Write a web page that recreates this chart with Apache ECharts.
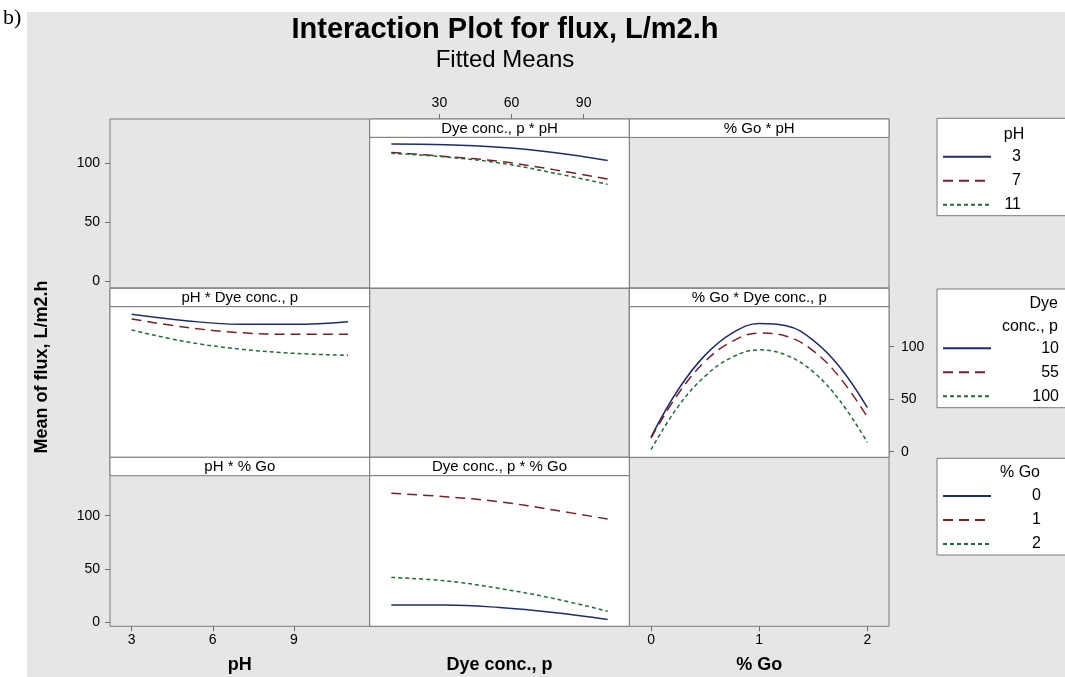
<!DOCTYPE html>
<html style="height: 100%">
<head>
<meta charset="utf-8">
<script src="https://cdn.jsdelivr.net/npm/echarts@6/dist/echarts.min.js"></script>
</head>
<body style="height: 100%; margin: 0">
<div id="container" style="width: 1065px; height: 677px"></div>
<script type="text/javascript">
// x positions where the fitted curves were read
var dyeX = [10, 32.5, 55, 77.5, 100];
var phX = [3, 5, 7, 9, 11];
var goX = [0, 0.25, 0.5, 0.75, 1, 1.25, 1.5, 1.75, 2];

var phLevels = ['3', '7', '11'];
var dyeLevels = ['10', '55', '100'];
var goLevels = ['0', '1', '2'];

// Dye conc., p * pH  (one line per pH level)
var dyePh3 = [116.4, 115.8, 113.6, 109.3, 102.5];
var dyePh7 = [109.3, 105.9, 101.7, 94.7, 86.8];
var dyePh11 = [108.5, 105.4, 100.3, 91.9, 82.2];

// pH * Dye conc., p  (one line per dye level)
var phDye10 = [130.9, 124.8, 121.3, 121.3, 123.8];
var phDye55 = [126.4, 118.5, 113.4, 111.8, 111.8];
var phDye100 = [115.9, 104.8, 97.8, 93.7, 91.8];

// % Go * Dye conc., p
var goDye10 = [14, 59, 92, 113, 122, 120, 106, 80, 42];
var goDye55 = [13, 55, 86, 105, 113, 110, 96, 70, 33];
var goDye100 = [2, 43, 72, 90, 97, 92, 76, 48, 9];

// Dye conc., p * % Go
var dyeGo0 = [16.0, 16.0, 13.6, 8.9, 2.3];
var dyeGo1 = [121.1, 117.9, 113.2, 105.4, 96.9];
var dyeGo2 = [41.9, 38.7, 31.5, 22.1, 10.1];

var yTicks = [0, 50, 100];
var phTicks = [3, 6, 9];
var dyeTicks = [30, 60, 90];
var goTicks = [0, 1, 2];

var FONT = 'Liberation Sans';
var LINE_COLORS = ['#1d2d6b', '#7a1f27', '#1f6b3a'];
var LINE_TYPES = ['solid', [10, 6], [4, 3]];
var GRAY = '#e6e6e6';
var EDGE = '#7a7a7a';

var colX = [110, 369.7, 629.4];
var colW = 259.6;
var rowY = [119, 288.3, 457.3];
var rowH = 169;
var headH = 18.4;

var xRanges = [[2.2, 11.8], [1, 109], [-0.2, 2.2]];
var yRanges = [[-5.6, 122], [-5.3, 138.1], [-4.1, 137.7]];

function zip(xs, ys) {
    return xs.map(function (x, i) { return [x, ys[i]]; });
}

var grids = [], xAxes = [], yAxes = [];
for (var r = 0; r < 3; r++) {
    for (var c = 0; c < 3; c++) {
        var gi = r * 3 + c;
        grids.push({
            left: colX[c], top: rowY[r] + headH,
            width: colW, height: rowH - headH,
            show: false
        });
        xAxes.push({
            gridIndex: gi, type: 'value',
            min: xRanges[c][0], max: xRanges[c][1],
            show: false,
            axisLine: { show: false, onZero: false },
            splitLine: { show: false },
            axisTick: { show: false },
            axisLabel: { show: false }
        });
        yAxes.push({
            gridIndex: gi, type: 'value',
            min: yRanges[r][0], max: yRanges[r][1],
            show: false,
            axisLine: { show: false, onZero: false },
            splitLine: { show: false },
            axisTick: { show: false },
            axisLabel: { show: false }
        });
    }
}

function tickAxis(ax, values, margin) {
    ax.show = true;
    ax.axisTick = { show: true, length: 5, customValues: values, lineStyle: { color: '#6e6e6e' } };
    ax.axisLabel = { show: true, customValues: values, color: '#000', fontSize: 14, fontFamily: FONT, margin: margin };
}
var nameStyle = { fontFamily: FONT, fontSize: 18, fontWeight: 'bold', color: '#000' };

// top Dye axis
tickAxis(xAxes[1], dyeTicks, 9);
xAxes[1].position = 'top';
xAxes[1].offset = headH;
// bottom axes
tickAxis(xAxes[6], phTicks, 7);
tickAxis(xAxes[8], goTicks, 7);
xAxes[7].show = true;
[6, 7, 8].forEach(function (i, k) {
    xAxes[i].position = 'bottom';
    xAxes[i].name = ['pH', 'Dye conc., p', '% Go'][k];
    xAxes[i].nameLocation = 'middle';
    xAxes[i].nameGap = 30;
    xAxes[i].nameTextStyle = nameStyle;
});
// y axes
tickAxis(yAxes[0], yTicks, 10);
tickAxis(yAxes[6], yTicks, 10);
tickAxis(yAxes[5], yTicks, 12);
yAxes[5].position = 'right';

function panelSeries(gi, names, xs, ys) {
    return names.map(function (n, k) {
        return {
            name: n, type: 'line', xAxisIndex: gi, yAxisIndex: gi,
            data: zip(xs, ys[k]), symbol: 'none', smooth: 0.4,
            color: LINE_COLORS[k],
            lineStyle: { color: LINE_COLORS[k], width: 1.5, type: LINE_TYPES[k] }
        };
    });
}

var series = []
    .concat(panelSeries(1, phLevels, dyeX, [dyePh3, dyePh7, dyePh11]))
    .concat(panelSeries(3, dyeLevels, phX, [phDye10, phDye55, phDye100]))
    .concat(panelSeries(5, dyeLevels, goX, [goDye10, goDye55, goDye100]))
    .concat(panelSeries(7, goLevels, dyeX, [dyeGo0, dyeGo1, dyeGo2]));

// panel frames, headers
var graphics = [
    { type: 'rect', shape: { x: 27, y: 12, width: 1040, height: 667 }, style: { fill: GRAY }, z: -10 },
    { type: 'text', x: 3, y: 7, style: { text: 'b)', font: '22px Liberation Serif', fill: '#000' } }
];
var headers = {
    1: 'Dye conc., p * pH', 2: '% Go * pH',
    3: 'pH * Dye conc., p', 5: '% Go * Dye conc., p',
    6: 'pH * % Go', 7: 'Dye conc., p * % Go'
};
var dataPanels = [1, 3, 5, 7];
for (var gi = 0; gi < 9; gi++) {
    var x = colX[gi % 3], y = rowY[Math.floor(gi / 3)];
    graphics.push({ type: 'rect', shape: { x: x, y: y, width: colW, height: rowH },
        style: { fill: GRAY, stroke: EDGE, lineWidth: 1 }, z: -5 });
    if (headers[gi]) {
        graphics.push({ type: 'rect', shape: { x: x, y: y, width: colW, height: headH },
            style: { fill: '#fff', stroke: EDGE, lineWidth: 1 }, z: -4 });
        graphics.push({ type: 'text', x: x + colW / 2, y: y + headH / 2 + 0.5, z: -3,
            style: { text: headers[gi], font: '15px ' + FONT, fill: '#000', align: 'center', verticalAlign: 'middle' } });
    }
    if (dataPanels.indexOf(gi) >= 0) {
        graphics.push({ type: 'rect', shape: { x: x, y: y + headH, width: colW, height: rowH - headH },
            style: { fill: '#fff', stroke: EDGE, lineWidth: 1 }, z: -4 });
    }
}
// legend boxes and their titles
var boxes = [[118.3, 97.4], [289, 118.7], [458.3, 96.7]];
boxes.forEach(function (b) {
    graphics.push({ type: 'rect', shape: { x: 937, y: b[0], width: 140, height: b[1] },
        style: { fill: '#fff', stroke: EDGE, lineWidth: 1 }, z: -4 });
});
function legendTitle(t, x, y, align) {
    graphics.push({ type: 'text', x: x, y: y, z: -3,
        style: { text: t, font: '16px ' + FONT, fill: '#000', align: align, verticalAlign: 'middle' } });
}
legendTitle('pH', 1014, 135, 'center');
legendTitle('Dye', 1058, 304, 'right');
legendTitle('conc., p', 1058, 327, 'right');
legendTitle('% Go', 1020, 473, 'center');
// y axis title
graphics.push({ type: 'text', x: 42, y: 367, rotation: Math.PI / 2,
    style: { text: 'Mean of flux, L/m2.h', font: 'bold 18px ' + FONT, fill: '#000', align: 'center', verticalAlign: 'middle' } });

function makeLegend(names, top, labelW) {
    return {
        data: names, orient: 'vertical', left: 942, top: top, padding: 0,
        itemWidth: 48, itemHeight: 14, itemGap: 8, selectedMode: false,
        itemStyle: { opacity: 0 },
        formatter: '{r|{name}}',
        textStyle: { color: '#000', fontFamily: FONT, fontSize: 16,
            rich: { r: { width: labelW, align: 'right', fontSize: 16, fontFamily: FONT, color: '#000' } } }
    };
}

var dom = document.getElementById('container');
var myChart = echarts.init(dom);
var option = {
    backgroundColor: '#fff',
    animation: false,
    title: {
        text: 'Interaction Plot for flux, L/m2.h',
        subtext: 'Fitted Means',
        left: 505, top: 15, padding: 0, textAlign: 'center', itemGap: 4,
        textStyle: { fontFamily: FONT, fontSize: 29, fontWeight: 'bold', color: '#000' },
        subtextStyle: { fontFamily: FONT, fontSize: 24, color: '#000' }
    },
    legend: [
        makeLegend(phLevels, 148.7, 25),
        makeLegend(dyeLevels, 340.3, 63),
        makeLegend(goLevels, 488, 45)
    ],
    grid: grids,
    xAxis: xAxes,
    yAxis: yAxes,
    graphic: graphics,
    series: series
};
myChart.setOption(option);
</script>
</body>
</html>
